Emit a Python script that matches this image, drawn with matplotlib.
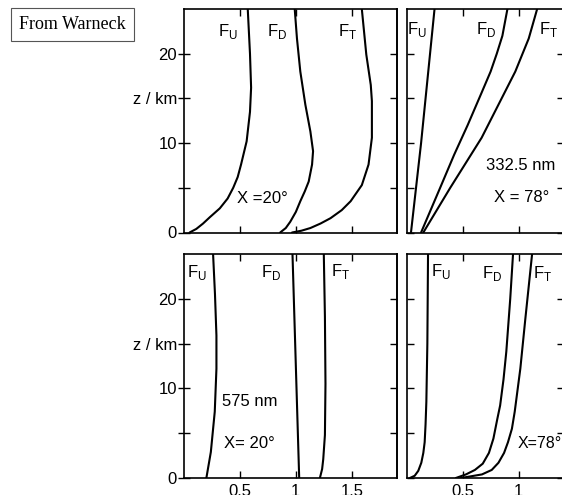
import matplotlib
matplotlib.use('Agg')
import matplotlib.pyplot as plt

plt.rcParams['font.family'] = ['Liberation Sans', 'DejaVu Sans']

# ---------------- data (z in km, relative flux) ----------------
# 332.5 nm, chi = 20 deg (top left)
tl_fu_z = [0, 0.4, 1.0, 1.7, 2.7, 3.8, 5.0, 6.2, 7.6, 10.2, 13.5, 16.2, 20.0, 25.0]
tl_fu_v = [0.05, 0.11, 0.17, 0.23, 0.32, 0.39, 0.44, 0.48, 0.51, 0.56, 0.59, 0.60, 0.59, 0.57]
tl_fd_z = [0, 0.5, 1.2, 2.3, 3.5, 4.6, 5.7, 7.6, 9.1, 11.3, 14.3, 18.0, 21.7, 25.0]
tl_fd_v = [0.86, 0.91, 0.95, 1.00, 1.04, 1.08, 1.115, 1.145, 1.154, 1.13, 1.085, 1.04, 1.01, 0.99]
tl_ft_z = [0, 0.2, 0.5, 1.0, 1.6, 2.5, 3.5, 5.3, 7.6, 10.6, 14.7, 16.5, 19.9, 25.0]
tl_ft_v = [0.966, 1.05, 1.13, 1.22, 1.31, 1.41, 1.49, 1.59, 1.65, 1.68, 1.68, 1.67, 1.63, 1.59]

# 332.5 nm, chi = 78 deg (top right)
tr_fu_z = [0, 5, 10, 15, 20, 25]
tr_fu_v = [0.04, 0.085, 0.13, 0.17, 0.21, 0.25]
tr_fd_z = [0, 2.5, 5, 8.7, 12, 15.5, 18, 20, 22, 25]
tr_fd_v = [0.13, 0.215, 0.30, 0.425, 0.545, 0.665, 0.75, 0.805, 0.855, 0.90]
tr_ft_z = [0, 2.5, 5, 8, 10.6, 14.3, 18, 21.7, 25]
tr_ft_v = [0.15, 0.27, 0.39, 0.54, 0.67, 0.82, 0.97, 1.09, 1.165]

# 575 nm, chi = 20 deg (bottom left)
bl_fu_z = [0, 2.9, 7.4, 12.2, 15.9, 20.5, 25]
bl_fu_v = [0.20, 0.24, 0.275, 0.29, 0.29, 0.277, 0.26]
bl_fd_z = [0, 12.5, 25]
bl_fd_v = [1.03, 1.00, 0.97]
bl_ft_z = [0, 1.0, 2.1, 4.8, 10.5, 18, 25]
bl_ft_v = [1.215, 1.235, 1.245, 1.26, 1.265, 1.26, 1.25]

# 575 nm, chi = 78 deg (bottom right)
br_fu_z = [0, 0.25, 0.8, 1.7, 2.8, 4.0, 6, 8.5, 15, 25]
br_fu_v = [0.03, 0.073, 0.105, 0.132, 0.15, 0.162, 0.17, 0.177, 0.186, 0.192]
br_fd_z = [0, 0.4, 0.9, 1.6, 2.8, 4.4, 6.6, 8.1, 11, 14.1, 20, 25]
br_fd_v = [0.44, 0.53, 0.61, 0.68, 0.735, 0.775, 0.81, 0.835, 0.865, 0.89, 0.925, 0.95]
br_ft_z = [0, 0.4, 0.9, 1.7, 2.8, 4.0, 5.5, 7.4, 12.2, 17.8, 25]
br_ft_v = [0.486, 0.673, 0.76, 0.82, 0.87, 0.905, 0.94, 0.965, 1.015, 1.06, 1.12]

y_ticks = [0, 5, 10, 15, 20]
y_labels = ['0', '', '10', 'z / km', '20']
x_ticks_left = [0.5, 1.0, 1.5]
x_labels_left = ['0.5', '1', '1.5']
x_ticks_right = [0.5, 1.0]
x_labels_right = ['0.5', '1']

# ---------------- figure ----------------
W, H = 562, 495
fig = plt.figure(figsize=(W / 100, H / 100), dpi=100)


def rect(x0, x1, ytop, ybot):
    return [x0 / W, 1 - ybot / H, (x1 - x0) / W, (ybot - ytop) / H]


ax_tl = fig.add_axes(rect(184, 396.5, 9, 232.5))
ax_tr = fig.add_axes(rect(406.5, 563.5, 9, 232.5))
ax_bl = fig.add_axes(rect(184, 396.5, 254, 478))
ax_br = fig.add_axes(rect(406.5, 563.5, 254, 478))

LW = 1.5
TICKFS = 12


def style(ax, xmax, xt, xl, left_panel, bottom_row):
    ax.set_xlim(0, xmax)
    ax.set_ylim(0, 25)
    for s in ax.spines.values():
        s.set_linewidth(1.2)
    ax.set_xticks(xt)
    ax.set_xticklabels(xl if bottom_row else [''] * len(xt))
    ax.tick_params(axis='x', direction='in', top=True, bottom=True,
                   length=5, width=1, labelsize=TICKFS, pad=4)
    ax.set_yticks(y_ticks)
    if left_panel:
        ax.set_yticklabels(y_labels)
        ax.tick_params(axis='y', direction='inout', left=True, right=False,
                       length=8, width=1, labelsize=TICKFS, pad=1)
        sec = ax.secondary_yaxis('right')
        sec.set_yticks(y_ticks[1:])
        sec.set_yticklabels([''] * len(y_ticks[1:]))
        sec.tick_params(direction='in', length=5, width=1)
        sec.spines['right'].set_linewidth(1.2)
    else:
        ax.set_yticklabels([''] * len(y_ticks))
        ax.tick_params(axis='y', direction='in', left=True, right=True,
                       length=5, width=1)


style(ax_tl, 1.9, x_ticks_left, x_labels_left, True, False)
style(ax_tr, 1.4, x_ticks_right, x_labels_right, False, False)
style(ax_bl, 1.9, x_ticks_left, x_labels_left, True, True)
style(ax_br, 1.4, x_ticks_right, x_labels_right, False, True)

for ax, curves in [
    (ax_tl, [(tl_fu_v, tl_fu_z), (tl_fd_v, tl_fd_z), (tl_ft_v, tl_ft_z)]),
    (ax_tr, [(tr_fu_v, tr_fu_z), (tr_fd_v, tr_fd_z), (tr_ft_v, tr_ft_z)]),
    (ax_bl, [(bl_fu_v, bl_fu_z), (bl_fd_v, bl_fd_z), (bl_ft_v, bl_ft_z)]),
    (ax_br, [(br_fu_v, br_fu_z), (br_fd_v, br_fd_z), (br_ft_v, br_ft_z)]),
]:
    for v, z in curves:
        ax.plot(v, z, color='black', lw=LW, solid_joinstyle='round',
                solid_capstyle='round')

FU = r'F$_\mathregular{U}$'
FD = r'F$_\mathregular{D}$'
FT = r'F$_\mathregular{T}$'
FS = 12


def lab(ax, x, y, s, ha='center', fs=FS):
    ax.text(x, y, s, ha=ha, va='center', fontsize=fs, color='black')


lab(ax_tl, 0.39, 22.5, FU)
lab(ax_tl, 0.83, 22.5, FD)
lab(ax_tl, 1.46, 22.5, FT)
lab(ax_tl, 0.70, 3.85, 'X =20°')

lab(ax_tr, 0.094, 22.7, FU)
lab(ax_tr, 0.71, 22.7, FD)
lab(ax_tr, 1.27, 22.7, FT)
lab(ax_tr, 1.02, 7.55, '332.5 nm')
lab(ax_tr, 1.03, 3.9, 'X = 78°')

lab(ax_bl, 0.114, 22.9, FU)
lab(ax_bl, 0.78, 22.9, FD)
lab(ax_bl, 1.40, 23.1, FT)
lab(ax_bl, 0.587, 8.5, '575 nm')
lab(ax_bl, 0.587, 3.84, 'X= 20°')

lab(ax_br, 0.31, 23.0, FU)
lab(ax_br, 0.76, 22.8, FD)
lab(ax_br, 1.21, 22.8, FT)
lab(ax_br, 0.995, 3.84, 'X=78°', ha='left', fs=11.5)

fig.text(72.5 / W, 1 - 24.5 / H, 'From Warneck', ha='center', va='center',
         fontsize=13, family=['Liberation Serif', 'DejaVu Serif'],
         bbox=dict(boxstyle='square,pad=0.45', fc='white', ec='#555555', lw=0.8))

fig.savefig('out.png', dpi=100)
